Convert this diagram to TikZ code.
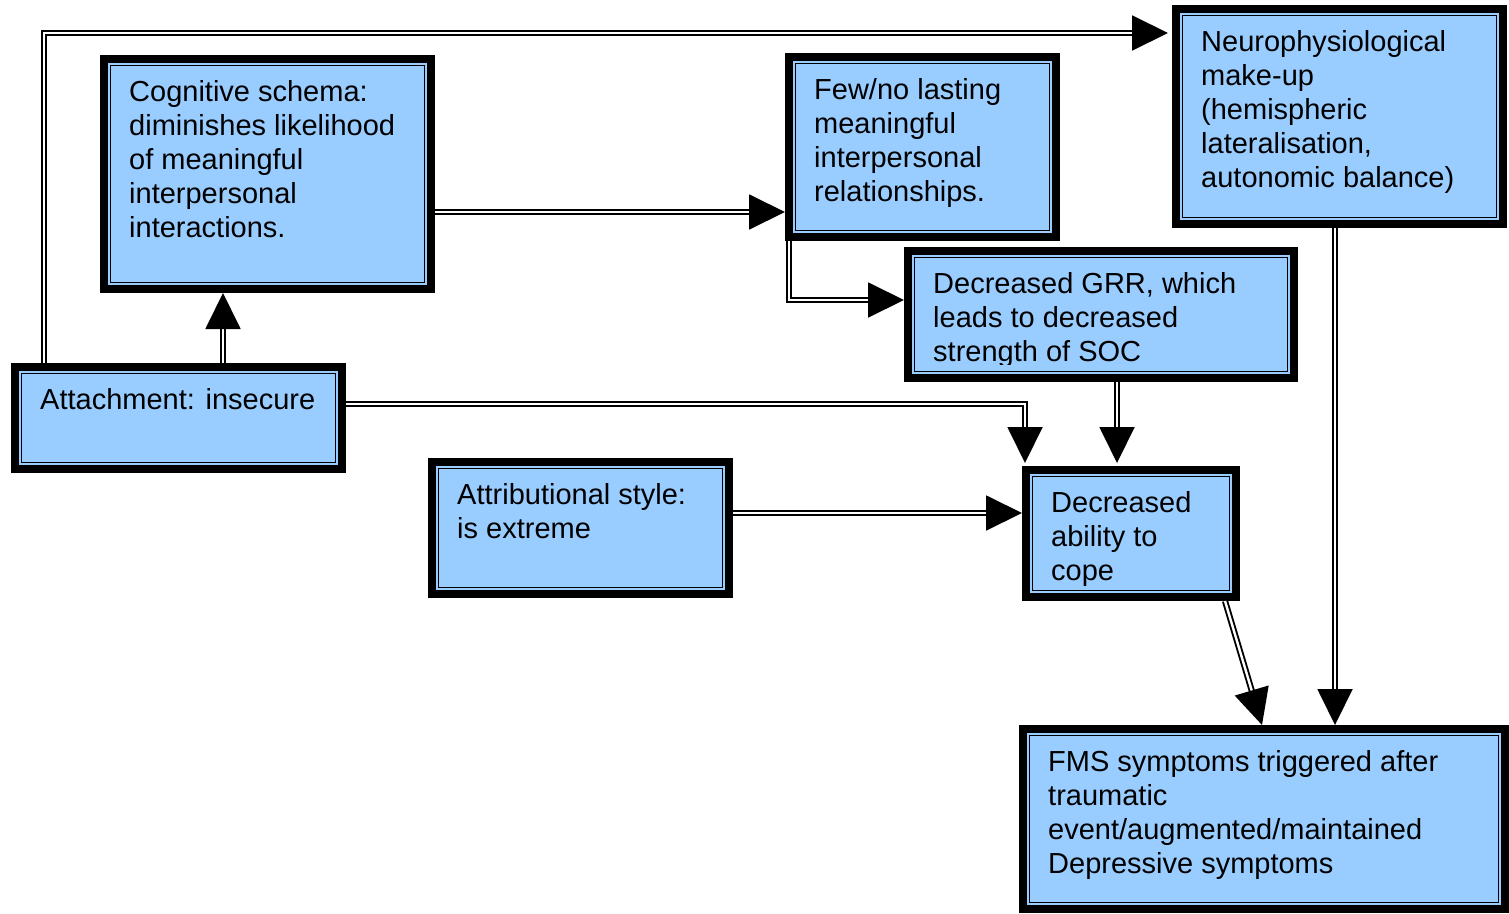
\documentclass[tikz,border=0pt]{standalone}
\usepackage{fontspec}
\setmainfont{Liberation Sans}
\usetikzlibrary{arrows.meta,calc}
\definecolor{boxblue}{RGB}{153,204,255}
\tikzset{
  boxouter/.style={rectangle, draw=black, line width=8pt, fill=boxblue, inner sep=0pt},
  boxinner/.style={draw=black, line width=1.5pt},
  boxtext/.style={anchor=north west, inner sep=0pt, align=left, font=\fontsize{29}{34}\selectfont},
  conn/.style={draw=black, line width=1.9pt, double=white, double distance=2.4pt,
    -{Triangle[length=36pt,width=35pt]}},
}
\newcommand{\flowframe}[5]{%
  \pgfmathsetmacro{\fbW}{#4-8}\pgfmathsetmacro{\fbH}{#5-8}%
  \node[boxouter, minimum width=\fbW pt, minimum height=\fbH pt, anchor=north west] (#1) at (#2,#3) {};
  \draw[boxinner] ([shift={(10.5pt,-10.5pt)}]#1.north west) rectangle ([shift={(-10.5pt,10.5pt)}]#1.south east);
}
\newcommand{\flowbox}[6]{%
  \flowframe{#1}{#2}{#3}{#4}{#5}
  \node[boxtext] (#1-t) at ([shift={(29pt,-25pt)}]#1.north west) {#6};
}
\begin{document}
\begin{tikzpicture}[x=1pt,y=-1pt]
\useasboundingbox (0,0) rectangle (1509,913);
\fill[white] (0,0) rectangle (1509,913);

\flowbox{cog}{100}{55}{335}{238}{Cognitive schema:\\diminishes likelihood\\of meaningful\\interpersonal\\interactions.}
\flowbox{few}{785}{53}{275}{188}{Few/no lasting\\meaningful\\interpersonal\\relationships.}
\flowbox{neuro}{1172}{5}{335}{223}{Neurophysiological\\make-up\\(hemispheric\\lateralisation,\\autonomic balance)}
\flowframe{grr}{904}{247}{394}{135}
\begin{scope}
  \clip (904,247) rectangle (1298,364);
  \node[boxtext] (grr-t) at ([shift={(29pt,-25pt)}]grr.north west) {Decreased GRR, which\\leads to decreased\\strength of SOC};
\end{scope}
\flowbox{att}{11}{363}{335}{110}{Attachment: insecure}
\flowbox{attr}{428}{458}{305}{140}{Attributional style:\\is extreme}
\flowbox{dec}{1022}{466}{218}{135}{Decreased\\ability to\\cope}
\flowbox{fms}{1019}{725}{490}{188}{FMS symptoms triggered after\\traumatic\\event/augmented/maintained\\Depressive symptoms}

\coordinate (p1) at (44,33);
\coordinate (p2) at (223,0);
\coordinate (p3) at (0,212);
\coordinate (p4) at (789,300);
\coordinate (p5) at (1025,404);
\coordinate (p6) at (1117,0);
\coordinate (p7) at (0,513);
\coordinate (p9) at (1335,0);

\draw[conn, shorten >=4pt] (p1 |- att.north) -- (p1) -- (p1 -| neuro.west);
\draw[conn] (p2 |- att.north) -- (p2 |- cog.south);
\draw[conn] (cog.east |- p3) -- (few.west |- p3);
\draw[conn] (p4 |- few.south) -- (p4) -- (p4 -| grr.west);
\draw[conn, shorten >=3pt] (att.east |- p5) -- (p5) -- (p5 |- dec.north);
\draw[conn, shorten >=3pt] (p6 |- grr.south) -- (p6 |- dec.north);
\draw[conn] (attr.east |- p7) -- (dec.west |- p7);
\draw[conn] ([xshift=94pt]dec.south) -- ([xshift=-2pt]fms.north);
\draw[conn] (p9 |- neuro.south) -- (p9 |- fms.north);
\end{tikzpicture}
\end{document}
